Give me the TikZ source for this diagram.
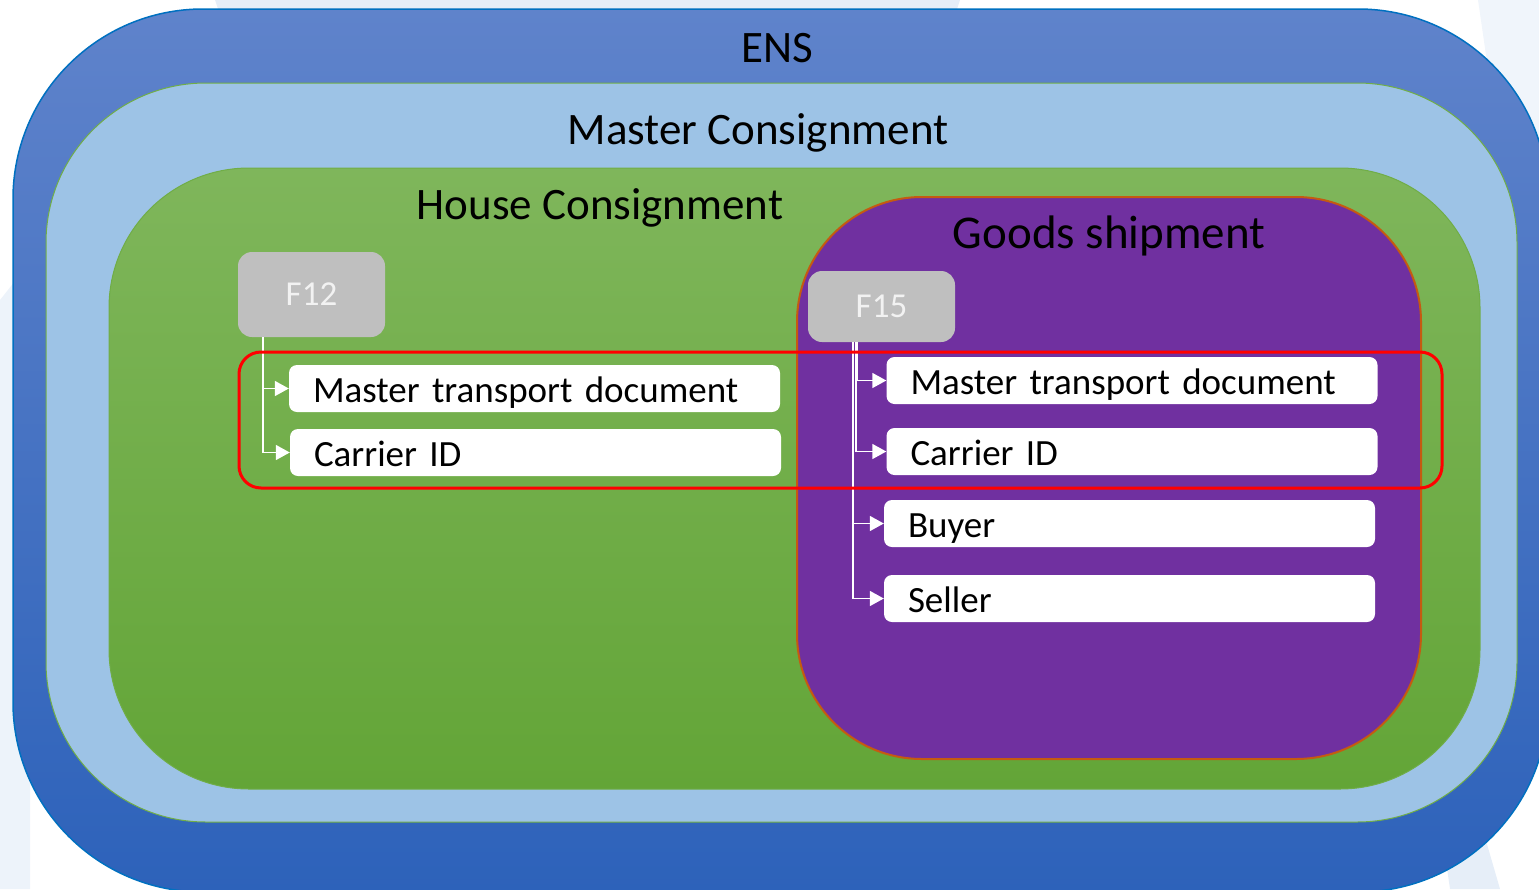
\documentclass[tikz,border=0pt]{standalone}
\usepackage{fontspec}
\setmainfont{Carlito}
\usepackage{xcolor}
\usetikzlibrary{arrows.meta}

\definecolor{ensTop}{HTML}{5F83CB}
\definecolor{ensBot}{HTML}{2D62BA}
\definecolor{ensLine}{HTML}{0070C0}
\definecolor{masterFill}{HTML}{9DC3E6}
\definecolor{greenLine}{HTML}{70AD47}
\definecolor{houseTop}{HTML}{7FB65B}
\definecolor{houseBot}{HTML}{63A537}
\definecolor{goodsFill}{HTML}{7030A0}
\definecolor{goodsLine}{HTML}{C55A11}
\definecolor{formGray}{HTML}{BFBFBF}
\definecolor{bgTint}{HTML}{E6EEF8}

\begin{document}
\begin{tikzpicture}[x=1pt, y=-1pt,
    title/.style={font=\fontsize{45}{54}\selectfont, anchor=base, inner sep=0pt},
    form/.style={fill=formGray, rounded corners=14pt, minimum width=147pt, text=white!95!black,
        font=\fontsize{35}{42}\selectfont},
    field/.style={fill=white, rounded corners=8pt, minimum height=47pt, inner xsep=24pt, inner ysep=0pt,
        text width=443pt, text height=27pt, text depth=0pt, align=left, font=\fontsize{37}{44}\selectfont},
    link/.style={draw=white, line width=1.5pt, -{Triangle[length=14pt, width=15pt]}}]
        \useasboundingbox (0,0) rectangle (1539,889);
        \clip (0,0) rectangle (1539,889);
        % Slide background
        \fill[bgTint] (215,0) -- (960,0) -- (950,30) -- (225,30) -- cycle;
        \fill[bgTint!60] (1478,0) -- (1539,0) -- (1539,420) -- cycle;
        \fill[bgTint!70] (0,300) -- (30,262) -- (30,889) -- (0,889) -- cycle;
        \fill[bgTint] (1440,820) -- (1480,820) -- (1500,889) -- (1450,889) -- cycle;

        % Nested containers
        \shadedraw[top color=ensTop, bottom color=ensBot, draw=ensLine, line width=1.5pt,
            rounded corners=190pt] (13,9) rectangle (1548,892);
        \draw[fill=masterFill, draw=greenLine, line width=1pt, rounded corners=160pt]
            (46,83) rectangle (1517,822);
        \shadedraw[top color=houseTop, bottom color=houseBot, draw=greenLine, line width=1pt,
            rounded corners=140pt] (109,168) rectangle (1480,789);
        \draw[fill=goodsFill, draw=goodsLine, line width=2pt, rounded corners=125pt]
            (797,197) rectangle (1421,759);

        \node[title] (ens) at (777,62) {ENS};
        \node[title] (master) at (758,144) {Master Consignment};
        \node[title] (house) at (600,219) {House Consignment};
        \node[title, font=\fontsize{47}{56}\selectfont] (goods) at (1109,248) {Goods shipment};

        % F12 in the house consignment
        \node[form, minimum height=85pt] (f12) at (311.5,294.5) {F12};
        \node[field] (lmtd) at (534.5,388.5) {Master transport document};
        \node[field] (lcid) at (535.5,452.5) {Carrier ID};
        \draw[link] ([xshift=25pt]f12.south west) |- (lmtd.west);
        \draw[link] ([xshift=25pt]f12.south west) |- (lcid.west);

        % F15 in the goods shipment
        \node[form, minimum height=71pt] (f15) at (881.5,306.5) {F15};
        \node[field] (rmtd) at (1132,380.5) {Master transport document};
        \node[field] (rcid) at (1132,451.5) {Carrier ID};
        \node[field] (buyer) at (1129.5,523.5) {Buyer};
        \node[field] (seller) at (1129.5,598.5) {Seller};
        \draw[link] ([xshift=49pt]f15.south west) |- (rmtd.west);
        \draw[link] ([xshift=48pt]f15.south west) |- (rcid.west);
        \draw[link] ([xshift=45pt]f15.south west) |- (buyer.west);
        \draw[link] ([xshift=45pt]f15.south west) |- (seller.west);

        % Fields shared by both
        \draw[red, line width=3pt, rounded corners=22pt] (239,352) rectangle (1442,488);
\end{tikzpicture}
\end{document}
